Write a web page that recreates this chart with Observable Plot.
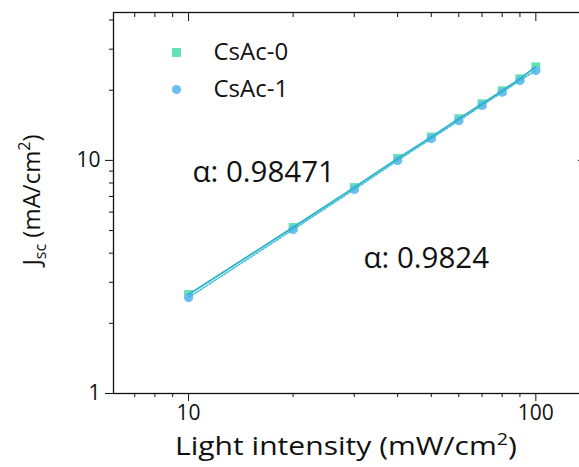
<!DOCTYPE html>
<html>
<head>
<meta charset="utf-8">
<script src="https://cdn.jsdelivr.net/npm/d3@7"></script>
<script src="https://cdn.jsdelivr.net/npm/@observablehq/plot@0.6"></script>
<style>
  html, body { margin: 0; padding: 0; background: white; }
  #chart { width: 579px; height: 467px; overflow: hidden; }
</style>
</head>
<body>
<div id="chart"></div>
<script>
const intensity = [10, 20, 30, 40, 50, 60, 70, 80, 90, 100];
const jscCsAc0 = [2.66, 5.16, 7.65, 10.2, 12.6, 15.1, 17.5, 19.9, 22.4, 25.2];
const jscCsAc1 = [2.58, 5.05, 7.50, 10.0, 12.4, 14.8, 17.2, 19.6, 22.0, 24.3];
const seriesNames = ["CsAc-0", "CsAc-1"];
const alphaLabels = ["α: 0.98471", "α: 0.9824"];
const xMajorTicks = [10, 100];
const xMinorTicks = [7, 8, 9, 20, 30, 40, 50, 60, 70, 80, 90];
const yMajorTicks = [1, 10];
const yMinorTicks = [2, 3, 4, 5, 6, 7, 8, 9, 20, 30, 40];

const data0 = intensity.map((x, i) => ({x, y: jscCsAc0[i]}));
const data1 = intensity.map((x, i) => ({x, y: jscCsAc1[i]}));

const c0 = "#62e2b4";
const c1 = "#6cbef2";
const lineColor = "#2cb4c6";
const font = "'Open Sans', Lato, sans-serif";

const plot = Plot.plot({
  width: 579,
  height: 467,
  marginLeft: 113,
  marginTop: 12,
  marginBottom: 74,
  marginRight: -6,
  style: {fontFamily: font, color: "#111", background: "white"},
  x: {type: "log", domain: [6.08, 139]},
  y: {type: "log", domain: [1, 43.1]},
  marks: [
    Plot.frame({stroke: "#111", strokeWidth: 1.3}),
    Plot.axisX(xMajorTicks, {anchor: "bottom", tickSize: 8, tickPadding: 4, fontSize: 21, label: null, tickFormat: d => String(d)}),
    Plot.axisX(xMinorTicks, {anchor: "bottom", tickSize: 4, text: null, label: null}),
    Plot.axisX(xMajorTicks, {anchor: "top", tickSize: -8, text: null, label: null}),
    Plot.axisX(xMinorTicks, {anchor: "top", tickSize: -4, text: null, label: null}),
    Plot.axisY(yMajorTicks, {anchor: "left", tickSize: 8, tickPadding: 5, fontSize: 21, label: null, tickFormat: d => String(d)}),
    Plot.axisY(yMinorTicks, {anchor: "left", tickSize: 4, text: null, label: null}),
    Plot.axisY(yMajorTicks, {anchor: "right", tickSize: -8, text: null, label: null}),
    Plot.axisY(yMinorTicks, {anchor: "right", tickSize: -4, text: null, label: null}),
    Plot.dot(data0, {x: "x", y: "y", symbol: "square", r: 5, fill: c0, stroke: null}),
    Plot.dot(data1, {x: "x", y: "y", symbol: "circle", r: 4.6, fill: c1, stroke: null}),
    Plot.line(data0, {x: "x", y: "y", stroke: lineColor, strokeWidth: 1.8}),
    Plot.line(data1, {x: "x", y: "y", stroke: "#3fb8d8", strokeWidth: 1.4, strokeDasharray: "2,1.5"}),
    // legend
    Plot.dot([seriesNames[0]], {frameAnchor: "top-left", dx: 63, dy: 40, symbol: "square", r: 5, fill: c0}),
    Plot.dot([seriesNames[1]], {frameAnchor: "top-left", dx: 63, dy: 77, symbol: "circle", r: 4.6, fill: c1}),
    Plot.text([seriesNames[0]], {text: d => d, frameAnchor: "top-left", dx: 100, dy: 40, textAnchor: "start", lineAnchor: "middle", fontSize: 24, fill: "#111"}),
    Plot.text([seriesNames[1]], {text: d => d, frameAnchor: "top-left", dx: 100, dy: 77, textAnchor: "start", lineAnchor: "middle", fontSize: 24, fill: "#111"}),
    // alpha annotations
    Plot.text([alphaLabels[0]], {text: d => d, frameAnchor: "top-left", dx: 79, dy: 160, textAnchor: "start", lineAnchor: "middle", fontSize: 29.5, fill: "#111"}),
    Plot.text([alphaLabels[1]], {text: d => d, frameAnchor: "top-left", dx: 250, dy: 246, textAnchor: "start", lineAnchor: "middle", fontSize: 29.5, fill: "#111"})
  ]
});

const svg = d3.select(plot);
// x axis label
const xl = svg.append("text")
  .attr("x", 175).attr("y", 455)
  .attr("text-anchor", "start")
  .attr("font-size", 26)
  .attr("font-family", font)
  .attr("textLength", 342)
  .attr("lengthAdjust", "spacingAndGlyphs")
  .attr("fill", "#111");
xl.append("tspan").text("Light intensity (mW/cm");
xl.append("tspan").attr("font-size", 17).attr("dy", -10).text("2");
xl.append("tspan").attr("dy", 10).text(")");

// y axis label
const yl = svg.append("text")
  .attr("transform", "translate(40,200) rotate(-90)")
  .attr("text-anchor", "middle")
  .attr("font-size", 24)
  .attr("font-family", font)
  .attr("fill", "#111");
yl.append("tspan").text("J");
yl.append("tspan").attr("font-size", 16).attr("dy", 6).text("sc");
yl.append("tspan").attr("dy", -6).text(" (mA/cm");
yl.append("tspan").attr("font-size", 16).attr("dy", -10).text("2");
yl.append("tspan").attr("dy", 10).text(")");

document.getElementById("chart").appendChild(plot);
</script>
</body>
</html>
